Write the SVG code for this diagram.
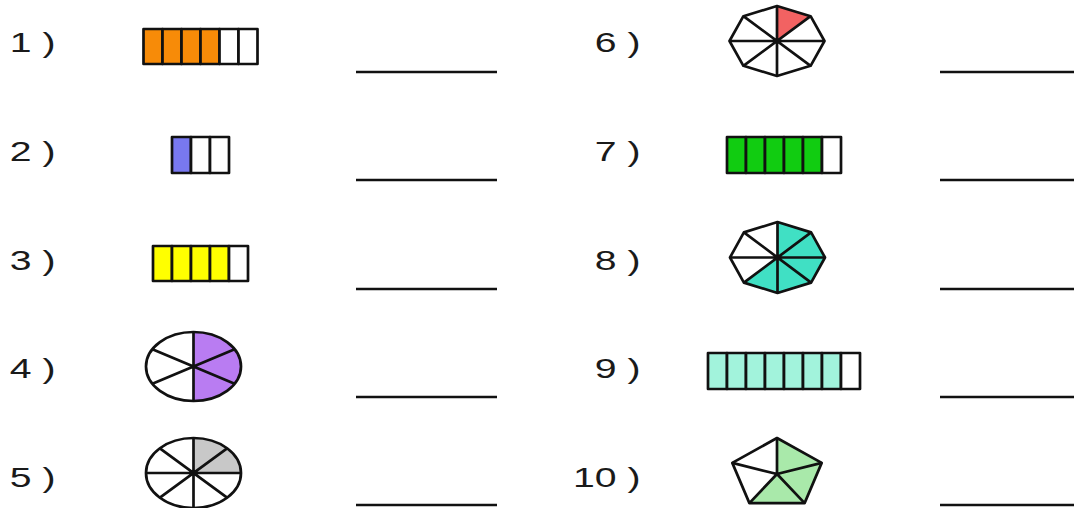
<svg xmlns="http://www.w3.org/2000/svg" width="1074" height="508" viewBox="0 0 1074 508">
<style>
.lbl{font-family:"Liberation Sans",Arial,sans-serif;font-size:28px;fill:#1a1a1a;text-anchor:end}
.s{stroke:#111;stroke-width:2.7;stroke-linejoin:round}
.w{fill:#fff}
.ans{stroke:#111;stroke-width:2.4}
.o{fill:#f78b08}.b{fill:#7878f0}.y{fill:#ffff00}.p{fill:#b97cf2}.g{fill:#c8c8c8}
.r{fill:#f26262}.gr{fill:#11cc11}.t{fill:#40e0c4}.a{fill:#a2f3dc}.lg{fill:#a9e9aa}
</style>
<rect width="1074" height="508" fill="#fff"/>

<g id="item1">
<g transform="translate(55.5,52) scale(1.4,1)"><text class="lbl" x="0" y="0">1 )</text></g>
<rect class="s o" x="143.5" y="29" width="19" height="35"/>
<rect class="s o" x="162.5" y="29" width="19" height="35"/>
<rect class="s o" x="181.5" y="29" width="19" height="35"/>
<rect class="s o" x="200.5" y="29" width="19" height="35"/>
<rect class="s w" x="219.5" y="29" width="19" height="35"/>
<rect class="s w" x="238.5" y="29" width="19" height="35"/>
<line class="ans" x1="356" y1="72" x2="497" y2="72"/>
</g>

<g id="item2">
<g transform="translate(55.5,161) scale(1.4,1)"><text class="lbl" x="0" y="0">2 )</text></g>
<rect class="s b" x="172" y="137" width="19" height="36"/>
<rect class="s w" x="191" y="137" width="19" height="36"/>
<rect class="s w" x="210" y="137" width="19" height="36"/>
<line class="ans" x1="356" y1="180" x2="497" y2="180"/>
</g>

<g id="item3">
<g transform="translate(55.5,270) scale(1.4,1)"><text class="lbl" x="0" y="0">3 )</text></g>
<rect class="s y" x="153" y="246" width="19" height="35"/>
<rect class="s y" x="172" y="246" width="19" height="35"/>
<rect class="s y" x="191" y="246" width="19" height="35"/>
<rect class="s y" x="210" y="246" width="19" height="35"/>
<rect class="s w" x="229" y="246" width="19" height="35"/>
<line class="ans" x1="356" y1="289" x2="497" y2="289"/>
</g>

<g id="item4">
<g transform="translate(55.5,378) scale(1.4,1)"><text class="lbl" x="0" y="0">4 )</text></g>
<ellipse class="w" cx="193.5" cy="366.5" rx="47.5" ry="34.5"/>
<path class="p" d="M193.5,366.5 L193.5,332 A47.5,34.5 0 0 1 193.5,401 Z"/>
<path class="s" fill="none" d="M193.5,332 L193.5,401 M193.5,366.5 L234.6,349.25 M193.5,366.5 L234.6,383.75 M193.5,366.5 L152.4,349.25 M193.5,366.5 L152.4,383.75"/>
<ellipse class="s" fill="none" cx="193.5" cy="366.5" rx="47.5" ry="34.5"/>
<line class="ans" x1="356" y1="397" x2="497" y2="397"/>
</g>

<g id="item5">
<g transform="translate(55.5,487) scale(1.4,1)"><text class="lbl" x="0" y="0">5 )</text></g>
<ellipse class="w" cx="193.5" cy="473" rx="47.5" ry="35"/>
<path class="g" d="M193.5,473 L193.5,438 A47.5,35 0 0 1 241,473 Z"/>
<path class="s" fill="none" d="M193.5,438 L193.5,508 M146,473 L241,473 M159.9,448.3 L227.1,497.7 M159.9,497.7 L227.1,448.3"/>
<ellipse class="s" fill="none" cx="193.5" cy="473" rx="47.5" ry="35"/>
<line class="ans" x1="356" y1="505" x2="497" y2="505"/>
</g>

<g id="item6">
<g transform="translate(640.5,52) scale(1.4,1)"><text class="lbl" x="0" y="0">6 )</text></g>
<polygon class="w" points="777,6 810.6,16.2 824.5,41 810.6,65.8 777,76 743.4,65.8 729.5,41 743.4,16.2"/>
<polygon class="r" points="777,41 777,6 810.6,16.2"/>
<path class="s" fill="none" d="M777,6 L777,76 M729.5,41 L824.5,41 M743.4,16.2 L810.6,65.8 M743.4,65.8 L810.6,16.2"/>
<polygon class="s" fill="none" points="777,6 810.6,16.2 824.5,41 810.6,65.8 777,76 743.4,65.8 729.5,41 743.4,16.2"/>
<line class="ans" x1="940" y1="72" x2="1074" y2="72"/>
</g>

<g id="item7">
<g transform="translate(640.5,161) scale(1.4,1)"><text class="lbl" x="0" y="0">7 )</text></g>
<rect class="s gr" x="727" y="137" width="19" height="36"/>
<rect class="s gr" x="746" y="137" width="19" height="36"/>
<rect class="s gr" x="765" y="137" width="19" height="36"/>
<rect class="s gr" x="784" y="137" width="19" height="36"/>
<rect class="s gr" x="803" y="137" width="19" height="36"/>
<rect class="s w" x="822" y="137" width="19" height="36"/>
<line class="ans" x1="940" y1="180" x2="1074" y2="180"/>
</g>

<g id="item8">
<g transform="translate(640.5,270) scale(1.4,1)"><text class="lbl" x="0" y="0">8 )</text></g>
<polygon class="w" points="777.5,222 811.1,232.4 825,257.5 811.1,282.6 777.5,293 743.9,282.6 730,257.5 743.9,232.4"/>
<polygon class="t" points="777.5,257.5 777.5,222 811.1,232.4 825,257.5 811.1,282.6 777.5,293 743.9,282.6"/>
<path class="s" fill="none" d="M777.5,222 L777.5,293 M730,257.5 L825,257.5 M743.9,232.4 L811.1,282.6 M743.9,282.6 L811.1,232.4"/>
<polygon class="s" fill="none" points="777.5,222 811.1,232.4 825,257.5 811.1,282.6 777.5,293 743.9,282.6 730,257.5 743.9,232.4"/>
<line class="ans" x1="940" y1="289" x2="1074" y2="289"/>
</g>

<g id="item9">
<g transform="translate(640.5,378) scale(1.4,1)"><text class="lbl" x="0" y="0">9 )</text></g>
<rect class="s a" x="708" y="353" width="19" height="36"/>
<rect class="s a" x="727" y="353" width="19" height="36"/>
<rect class="s a" x="746" y="353" width="19" height="36"/>
<rect class="s a" x="765" y="353" width="19" height="36"/>
<rect class="s a" x="784" y="353" width="19" height="36"/>
<rect class="s a" x="803" y="353" width="19" height="36"/>
<rect class="s a" x="822" y="353" width="19" height="36"/>
<rect class="s w" x="841" y="353" width="19" height="36"/>
<line class="ans" x1="940" y1="397" x2="1074" y2="397"/>
</g>

<g id="item10">
<g transform="translate(640.5,487) scale(1.4,1)"><text class="lbl" x="0" y="0">10 )</text></g>
<polygon class="w" points="777,438 821.7,462.9 804.6,503.1 749.4,503.1 732.3,462.9"/>
<polygon class="lg" points="777,474 777,438 821.7,462.9 804.6,503.1 749.4,503.1"/>
<path class="s" fill="none" d="M777,474 L777,438 M777,474 L821.7,462.9 M777,474 L804.6,503.1 M777,474 L749.4,503.1 M777,474 L732.3,462.9"/>
<polygon class="s" fill="none" points="777,438 821.7,462.9 804.6,503.1 749.4,503.1 732.3,462.9"/>
<line class="ans" x1="940" y1="505" x2="1074" y2="505"/>
</g>
</svg>
